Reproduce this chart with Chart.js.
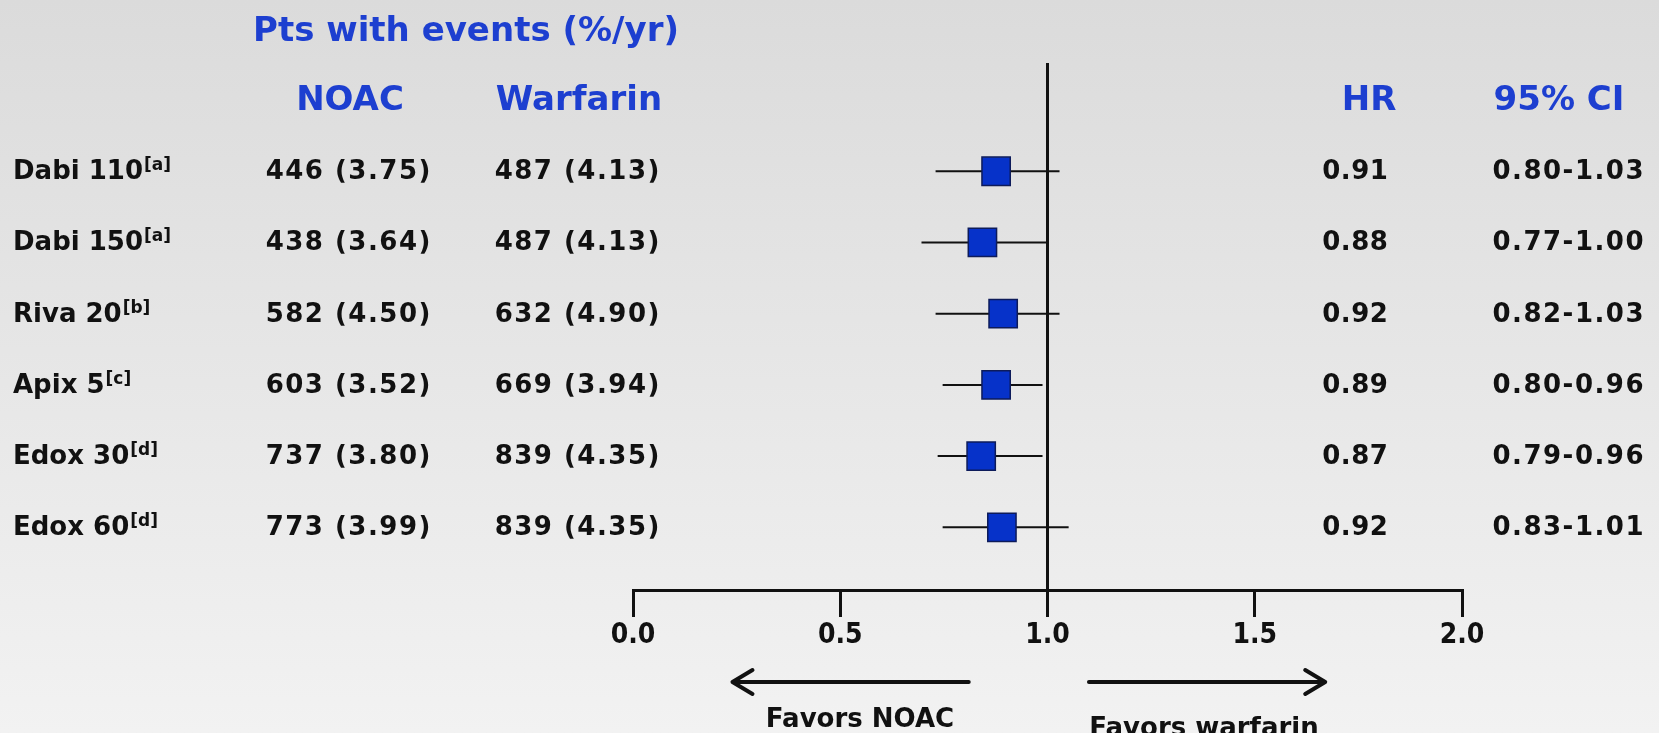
<!DOCTYPE html>
<html>
<head>
<meta charset="utf-8">
<script src="https://cdn.jsdelivr.net/npm/chart.js@4.4.1/dist/chart.umd.min.js"></script>
<style>
  html, body { margin: 0; padding: 0; }
  body { width: 1659px; height: 733px; overflow: hidden; background: linear-gradient(#dbdbdb, #f2f2f2); }
  #wrap { position: relative; width: 1659px; height: 733px; }
</style>
</head>
<body>
<div id="wrap"><canvas id="forest"></canvas></div>
<script>
// rows of the forest plot
const studies = ['Dabi 110', 'Dabi 150', 'Riva 20', 'Apix 5', 'Edox 30', 'Edox 60'];
const refs = ['[a]', '[a]', '[b]', '[c]', '[d]', '[d]'];
const noacEvents = ['446 (3.75)', '438 (3.64)', '582 (4.50)', '603 (3.52)', '737 (3.80)', '773 (3.99)'];
const warfEvents = ['487 (4.13)', '487 (4.13)', '632 (4.90)', '669 (3.94)', '839 (4.35)', '839 (4.35)'];
const hrText = ['0.91', '0.88', '0.92', '0.89', '0.87', '0.92'];
const ciText = ['0.80-1.03', '0.77-1.00', '0.82-1.03', '0.80-0.96', '0.79-0.96', '0.83-1.01'];

// where the squares and whiskers sit on the drawn axis
const hrPlot = [0.876, 0.843, 0.893, 0.876, 0.840, 0.890];
const ciLow = [0.730, 0.696, 0.730, 0.747, 0.735, 0.747];
const ciHigh = [1.029, 1.002, 1.029, 0.988, 0.988, 1.051];

const xTicks = [0, 0.5, 1, 1.5, 2];

const BLUE = '#1d3fd0';
const INK = '#111111';
const FONT = '"DejaVu Sans", sans-serif';
const yMin = -1.52, yMax = 5.88;

const datasets = [];
datasets.push({
    label: 'HR',
    data: hrPlot.map((v, i) => ({ x: v, y: i })),
    pointStyle: 'rect',
    pointRadius: 20,
    pointHoverRadius: 20,
    backgroundColor: '#0632c9',
    borderColor: '#0d1b5a',
    borderWidth: 1.5,
    order: 0
});
studies.forEach((s, i) => {
    datasets.push({
        label: s + ' CI',
        data: [{ x: ciLow[i], y: i }, { x: ciHigh[i], y: i }],
        showLine: true,
        borderColor: INK,
        borderWidth: 2,
        pointRadius: 0,
        order: 2
    });
});
// line of no effect
datasets.push({
    label: 'ref',
    data: [{ x: 1, y: yMin }, { x: 1, y: yMax }],
    showLine: true,
    borderColor: INK,
    borderWidth: 3,
    pointRadius: 0,
    order: 1
});

function drawSup(ctx, main, sup, x, y) {
    ctx.font = 'bold 26px ' + FONT;
    ctx.textAlign = 'left';
    ctx.fillText(main, x, y);
    const w = ctx.measureText(main).width;
    ctx.font = 'bold 17px ' + FONT;
    ctx.fillText(sup, x + w + 1, y - 9);
}

function spaced(ctx, txt, cx, y, gap) {
    ctx.letterSpacing = gap + 'px';
    const w = ctx.measureText(txt).width - gap;
    ctx.textAlign = 'left';
    ctx.fillText(txt, cx - w / 2, y);
    ctx.letterSpacing = '0px';
}

const textPlugin = {
    id: 'forestText',
    afterDraw(chart) {
        const ctx = chart.ctx;
        const xs = chart.scales.x, ys = chart.scales.y;
        ctx.save();
        ctx.textBaseline = 'alphabetic';

        // headers
        ctx.fillStyle = BLUE;
        ctx.textAlign = 'center';
        ctx.font = 'bold 34px ' + FONT;
        ctx.fillText('Pts with events (%/yr)', 466, 41);
        ctx.fillText('NOAC', 350, 110);
        ctx.fillText('Warfarin', 579, 110);
        ctx.fillText('HR', 1369, 110);
        ctx.fillText('95% CI', 1559, 110);

        // rows
        ctx.fillStyle = INK;
        studies.forEach((s, i) => {
            const y = ys.getPixelForValue(i) + 8;
            drawSup(ctx, s, refs[i], 13, y);
            ctx.font = 'bold 26px ' + FONT;
            spaced(ctx, noacEvents[i], 348, y, 1.5);
            spaced(ctx, warfEvents[i], 577, y, 1.5);
            spaced(ctx, hrText[i], 1355, y, 0.5);
            spaced(ctx, ciText[i], 1568, y, 1.5);
        });

        // direction arrows
        const ay = 682;
        ctx.strokeStyle = INK;
        ctx.lineWidth = 4;
        ctx.lineCap = 'round';
        ctx.lineJoin = 'round';
        const arrow = (fromV, toV) => {
            const x0 = xs.getPixelForValue(fromV), x1 = xs.getPixelForValue(toV);
            const d = Math.sign(x1 - x0);
            ctx.beginPath();
            ctx.moveTo(x0, ay);
            ctx.lineTo(x1, ay);
            ctx.moveTo(x1 - d * 20, ay - 12);
            ctx.lineTo(x1, ay);
            ctx.lineTo(x1 - d * 20, ay + 12);
            ctx.stroke();
        };
        arrow(0.81, 0.24);
        arrow(1.10, 1.67);

        ctx.font = 'bold 26px ' + FONT;
        ctx.textAlign = 'center';
        ctx.fillText('Favors NOAC', 860, 727);
        ctx.fillText('Favors warfarin', 1204, 736);
        ctx.restore();
    }
};

new Chart(document.getElementById('forest'), {
    type: 'scatter',
    data: { datasets: datasets },
    options: {
        responsive: true,
        maintainAspectRatio: false,
        animation: false,
        events: [],
        layout: { padding: { left: 633, right: 197, top: 63, bottom: 83 } },
        plugins: { legend: { display: false }, tooltip: { enabled: false } },
        scales: {
            x: {
                type: 'linear',
                min: 0,
                max: 2,
                afterBuildTicks: s => { s.ticks = xTicks.map(v => ({ value: v })); },
                afterFit: s => { s.height = 60; },
                border: { display: true, color: INK, width: 3 },
                grid: { drawOnChartArea: false, drawTicks: true, color: INK, lineWidth: 3, tickLength: 27 },
                ticks: {
                    padding: 2,
                    color: INK,
                    font: { family: '"DejaVu Sans Condensed", sans-serif', size: 28, weight: 'bold' },
                    callback: v => Number(v).toFixed(1)
                }
            },
            y: {
                type: 'linear',
                reverse: true,
                min: yMin,
                max: yMax,
                display: false
            }
        }
    },
    plugins: [textPlugin]
});
</script>
</body>
</html>
